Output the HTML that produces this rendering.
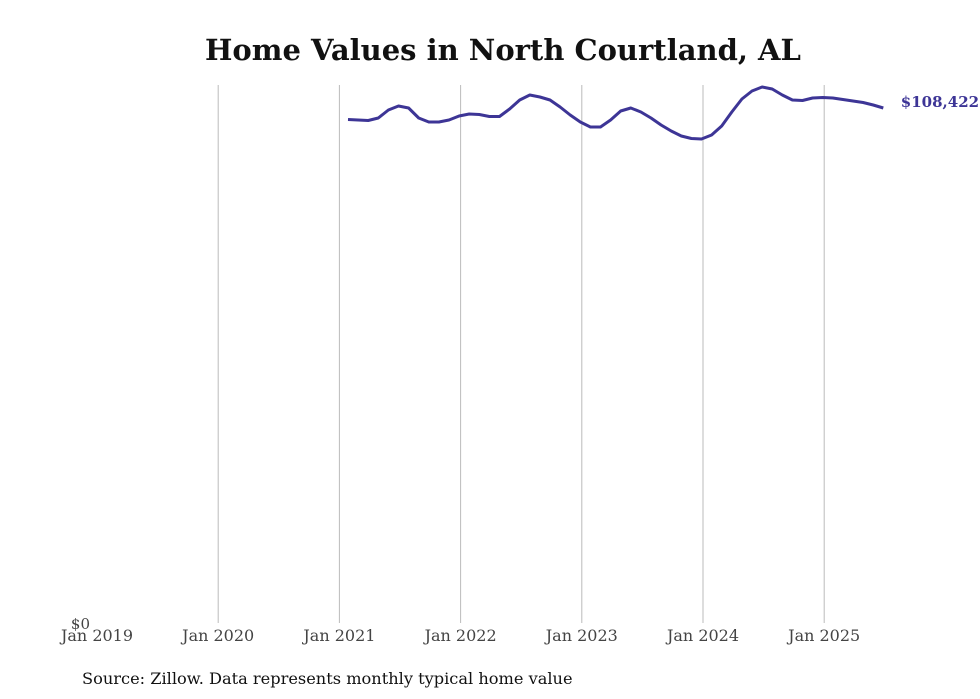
<!DOCTYPE html>
<html><head><meta charset="utf-8"><style>
body{margin:0;background:#fff;}
svg{display:block;font-family:"DejaVu Serif","Liberation Serif",serif;}
</style></head><body>
<svg id="chart" width="980" height="699" viewBox="0 0 980 699">
<text x="503" y="60" text-anchor="middle" font-size="29" font-weight="bold" fill="#111">Home Values in North Courtland, AL</text>
<g id="grid"></g><g id="xticks"></g>
<text x="90" y="629" text-anchor="end" font-size="15" fill="#444">$0</text>
<path id="line" fill="none" stroke="#3d3596" stroke-width="3" stroke-linejoin="round"></path>
<text id="endlabel" font-size="15" font-weight="bold" fill="#3d3596"></text>
<text x="82" y="684" font-size="16.2" fill="#111">Source: Zillow. Data represents monthly typical home value</text>
</svg>
<script>
const tickLabels=["Jan 2019","Jan 2020","Jan 2021","Jan 2022","Jan 2023","Jan 2024","Jan 2025"];
const startMonth=1; // months after Jan 2021 (Feb 2021)
const values=[105990,105890,105790,106320,108000,108840,108420,106320,105470,105470,105890,106740,
107160,107060,106630,106630,108210,110110,111160,110740,110110,108630,106950,105470,
104420,104420,105890,107790,108420,107580,106320,104840,103580,102530,102000,101900,
102740,104630,107580,110320,112000,112840,112420,111160,110110,110000,110530,110630,
110530,110210,109900,109580,109050,108422];
const ns="http://www.w3.org/2000/svg";
const x0=97,pxYear=121.2,y0=623,yScale=0.00475;
const xm=m=>x0+pxYear*m/12; // m months since Jan 2019
const yv=v=>y0-v*yScale;
const grid=document.getElementById('grid'),xt=document.getElementById('xticks');
tickLabels.forEach((t,i)=>{
  const x=xm(i*12);
  if(i>0){const l=document.createElementNS(ns,'line');
  
  
  l.setAttribute('x1',x);l.setAttribute('x2',x);l.setAttribute('y1',85);l.setAttribute('y2',y0);
  l.setAttribute('stroke','#bbb');l.setAttribute('stroke-width','1');grid.appendChild(l);}
  const tx=document.createElementNS(ns,'text');
  
  
  tx.setAttribute('x',x);tx.setAttribute('y',641);tx.setAttribute('text-anchor','middle');
  tx.setAttribute('font-size','16');tx.setAttribute('fill','#444');tx.textContent=t;xt.appendChild(tx);
});
let d='';
values.forEach((v,i)=>{const m=24+startMonth+i;d+=(i?'L':'M')+(xm(m)-1.5).toFixed(1)+','+yv(v).toFixed(1);});
document.getElementById('line').setAttribute('d',d);
const last=values[values.length-1],lm=24+startMonth+values.length-1;
const el=document.getElementById('endlabel');
el.setAttribute('x',xm(lm)+16);el.setAttribute('y',yv(last)-1);
el.textContent='$'+last.toLocaleString('en-US');
</script>
</body></html>
